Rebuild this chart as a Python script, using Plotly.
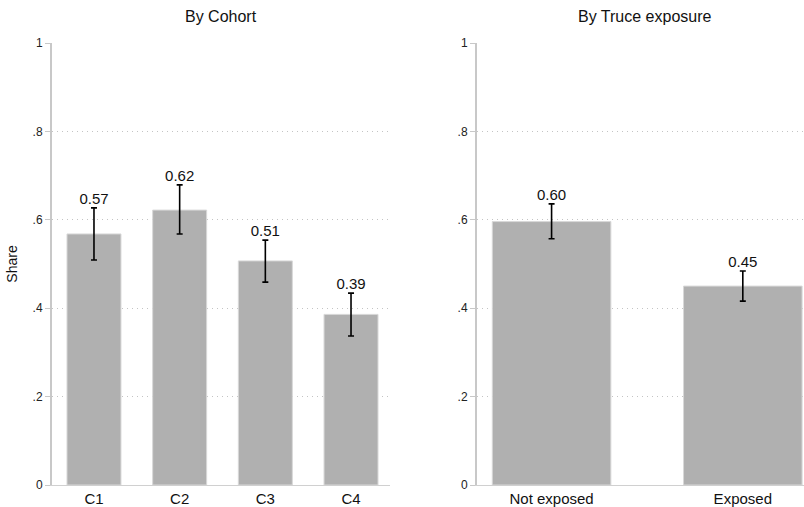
import plotly.graph_objects as go

# Data
cohort_cats = ["C1", "C2", "C3", "C4"]
cohort_share = [0.568, 0.622, 0.507, 0.386]
cohort_lo = [0.509, 0.568, 0.459, 0.337]
cohort_hi = [0.627, 0.679, 0.554, 0.434]

truce_cats = ["Not exposed", "Exposed"]
truce_share = [0.596, 0.450]
truce_lo = [0.557, 0.416]
truce_hi = [0.636, 0.484]

y_ticks = [0, 0.2, 0.4, 0.6, 0.8, 1]
y_ticklabels = ["0", ".2", ".4", ".6", ".8", "1"]

BAR = "#b0b0b0"
FONT = "Liberation Sans, Arial, sans-serif"

fig = go.Figure()

def add_panel(cats, vals, lo, hi, xa, ya, width):
    x = list(range(len(cats)))
    fig.add_trace(go.Bar(
        x=x, y=vals, width=width, marker=dict(color=BAR, line=dict(color="#d8d8d8", width=1)),
        error_y=dict(type="data", symmetric=False,
                     array=[h - v for h, v in zip(hi, vals)],
                     arrayminus=[v - l for v, l in zip(vals, lo)],
                     color="black", thickness=1.6, width=3),
        xaxis=xa, yaxis=ya, showlegend=False, hoverinfo="skip"))
    fig.add_trace(go.Scatter(
        x=x, y=hi, mode="text", text=[f"{v:.2f}" for v in vals],
        textposition="top center", textfont=dict(size=15, color="#111", family=FONT),
        xaxis=xa, yaxis=ya, showlegend=False, hoverinfo="skip", cliponaxis=False))

add_panel(cohort_cats, cohort_share, cohort_lo, cohort_hi, "x", "y", 0.63)
add_panel(truce_cats, truce_share, truce_lo, truce_hi, "x2", "y2", 0.62)

yaxis_common = dict(range=[0, 1], tickvals=y_ticks, ticktext=y_ticklabels,
                    showgrid=True, gridcolor="#c4c4c4", griddash="1px,4px", gridwidth=1,
                    showline=True, linecolor="#c8c8c8", linewidth=2,
                    ticks="outside", ticklen=5, tickcolor="#c8c8c8", tickwidth=1,
                    tickfont=dict(size=12, color="#222", family=FONT),
                    zeroline=False, fixedrange=True)

fig.update_layout(
    width=804, height=507,
    margin=dict(l=0, r=0, t=43, b=22),
    paper_bgcolor="white", plot_bgcolor="white",
    font=dict(family=FONT, color="#222"),
    xaxis=dict(domain=[52/804, 390/804], range=[-0.49, 3.455],
               tickvals=[0, 1, 2, 3], ticktext=cohort_cats,
               showgrid=False, zeroline=False, showline=True, linecolor="#d0d0d0", linewidth=1,
               ticks="", tickfont=dict(size=15, color="#111", family=FONT), fixedrange=True),
    xaxis2=dict(domain=[477/804, 1.0], range=[-0.39, 1.32],
                tickvals=[0, 1], ticktext=truce_cats, anchor="y2",
                showgrid=False, zeroline=False, showline=True, linecolor="#d0d0d0", linewidth=1,
                ticks="", tickfont=dict(size=15, color="#111", family=FONT), fixedrange=True),
    yaxis=dict(**yaxis_common, title=dict(text="Share", font=dict(size=14, color="#111", family=FONT), standoff=12)),
    yaxis2=dict(**yaxis_common, anchor="x2"),
    annotations=[
        dict(text="By Cohort", x=(52+390)/2/804, y=17, xref="paper", yref="paper",
             xanchor="center", showarrow=False, font=dict(size=16, color="#111", family=FONT)),
        dict(text="By Truce exposure", x=(477+804)/2/804 + 0.006, y=17, xref="paper", yref="paper",
             xanchor="center", showarrow=False, font=dict(size=16, color="#111", family=FONT)),
    ],
)
plot_h = 507 - 43 - 22
for a in fig.layout.annotations:
    a.y = 1 + (43 - 17) / plot_h
    a.yanchor = "middle"

fig.write_html("out.html", config={"displayModeBar": False},
               post_script="document.body.style.margin='0';document.body.style.padding='0';")
